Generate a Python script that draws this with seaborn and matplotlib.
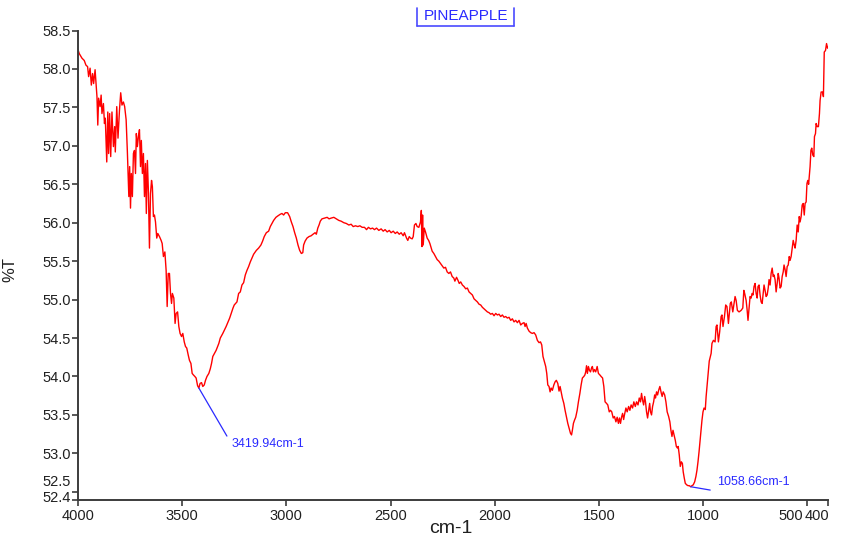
import numpy as np
import pandas as pd
import matplotlib
matplotlib.use("Agg")
import matplotlib.pyplot as plt
from matplotlib.lines import Line2D
from matplotlib.transforms import ScaledTranslation
import seaborn as sns

# FTIR transmittance spectrum, read region by region (wavenumber in cm-1, %T)
wn_oh = [4000, 3994, 3981, 3970, 3962, 3954, 3949, 3942, 3936, 3930, 3925, 3918, 3914, 3909,
         3905, 3901, 3894, 3889, 3885, 3878, 3873, 3869, 3862, 3857, 3853, 3848, 3843, 3837,
         3830, 3824, 3821, 3814, 3808, 3801, 3795, 3789, 3782, 3776, 3769, 3763, 3756, 3752,
         3748, 3744, 3739, 3734, 3729, 3724, 3720, 3715, 3710, 3705, 3700, 3696, 3691, 3686,
         3681, 3676, 3672, 3667, 3662, 3657, 3652, 3647, 3643, 3638, 3633, 3628, 3622, 3617,
         3609, 3601, 3596, 3590, 3583, 3577, 3572, 3567, 3561, 3556, 3551, 3547, 3540, 3534,
         3529, 3522, 3516, 3510, 3503, 3497, 3490, 3484, 3478, 3471, 3465, 3458, 3452, 3446,
         3439, 3433, 3426, 3419.94, 3414, 3407, 3401, 3394, 3388, 3381, 3372, 3365, 3359, 3353,
         3345, 3337, 3324, 3317, 3305, 3289, 3272]
t_oh = [58.25, 58.20, 58.14, 58.11, 58.05, 58.03, 57.90, 58.01, 57.79, 57.94, 57.81, 57.99, 57.83, 57.64,
        57.27, 57.62, 57.51, 57.66, 57.42, 57.55, 57.29, 57.36, 56.79, 57.44, 56.90, 57.42, 56.86, 57.44,
        56.99, 57.25, 56.92, 57.51, 57.10, 57.46, 57.69, 57.53, 57.57, 57.51, 57.34, 56.92, 56.34, 56.73,
        56.19, 56.64, 56.34, 56.90, 56.94, 56.64, 57.16, 56.99, 57.12, 57.21, 56.73, 57.07, 56.64, 56.90,
        56.34, 56.77, 56.12, 56.81, 56.40, 55.67, 56.38, 56.55, 56.47, 56.08, 56.10, 56.01, 55.80, 55.86,
        55.82, 55.77, 55.73, 55.56, 55.62, 55.38, 54.91, 55.34, 55.34, 55.08, 54.95, 55.08, 55.02, 54.69,
        54.82, 54.84, 54.65, 54.56, 54.52, 54.56, 54.45, 54.39, 54.37, 54.28, 54.21, 54.17, 54.04, 54.02,
        54.00, 53.98, 53.88, 53.85, 53.91, 53.92, 53.87, 53.89, 53.95, 54.00, 54.04, 54.10, 54.17, 54.26,
        54.30, 54.34, 54.43, 54.50, 54.56, 54.65, 54.76]

wn_ch = [3256, 3250, 3237, 3229, 3221, 3213, 3205, 3197, 3189, 3181, 3173, 3165, 3157, 3144,
         3133, 3122, 3114, 3106, 3096, 3085, 3077, 3069, 3061, 3050, 3040, 3029, 3021, 3013,
         3005, 2994, 2984, 2976, 2968, 2960, 2952, 2944, 2936, 2928, 2921, 2917, 2910, 2901,
         2891, 2881, 2872, 2862, 2856, 2849, 2843, 2837, 2829, 2817, 2804, 2795, 2785, 2772,
         2760, 2748, 2737, 2724, 2712, 2700, 2689, 2679, 2668, 2657, 2647, 2636, 2625, 2615,
         2606, 2596, 2586, 2577, 2567, 2556, 2545, 2535, 2526, 2516, 2506, 2497, 2487, 2477,
         2468, 2458, 2449, 2439, 2433, 2423, 2417, 2410, 2404, 2396, 2391, 2385, 2378, 2372,
         2364, 2356, 2352, 2349, 2346, 2343, 2338, 2332, 2324, 2317, 2311]
t_ch = [54.89, 54.93, 54.97, 55.08, 55.10, 55.19, 55.22, 55.32, 55.38, 55.43, 55.49, 55.54, 55.59, 55.64,
        55.67, 55.71, 55.76, 55.82, 55.87, 55.89, 55.95, 55.99, 56.03, 56.07, 56.09, 56.11, 56.12, 56.10,
        56.13, 56.13, 56.08, 56.01, 55.95, 55.87, 55.80, 55.71, 55.64, 55.60, 55.61, 55.71, 55.76, 55.80,
        55.82, 55.83, 55.85, 55.87, 55.85, 55.93, 55.97, 56.02, 56.05, 56.06, 56.07, 56.05, 56.06, 56.07,
        56.05, 56.03, 56.02, 56.00, 55.99, 55.97, 55.98, 55.95, 55.96, 55.95, 55.96, 55.94, 55.94, 55.91,
        55.94, 55.92, 55.93, 55.91, 55.93, 55.90, 55.92, 55.89, 55.91, 55.88, 55.90, 55.87, 55.89, 55.86,
        55.88, 55.85, 55.87, 55.83, 55.87, 55.80, 55.77, 55.82, 55.80, 55.79, 55.82, 55.97, 55.99, 55.95,
        55.94, 56.01, 56.16, 55.69, 56.10, 55.71, 55.93, 55.88, 55.80, 55.77, 55.73]

wn_mid = [2300, 2292, 2284, 2276, 2268, 2260, 2252, 2244, 2236, 2228, 2220, 2212, 2204, 2196,
          2191, 2183, 2176, 2170, 2163, 2155, 2147, 2139, 2131, 2123, 2115, 2107, 2099, 2091,
          2083, 2075, 2067, 2059, 2051, 2043, 2035, 2027, 2019, 2011, 2003, 1995, 1987, 1979,
          1971, 1963, 1955, 1947, 1939, 1931, 1923, 1915, 1907, 1899, 1891, 1883, 1875, 1867,
          1859, 1854, 1849, 1843, 1835, 1827, 1819, 1811, 1803]
t_mid = [55.63, 55.60, 55.56, 55.52, 55.50, 55.47, 55.44, 55.41, 55.42, 55.36, 55.34, 55.36, 55.30, 55.28,
         55.24, 55.29, 55.25, 55.21, 55.23, 55.19, 55.17, 55.14, 55.15, 55.10, 55.08, 55.06, 55.01, 54.99,
         54.97, 54.94, 54.93, 54.90, 54.88, 54.86, 54.84, 54.83, 54.81, 54.82, 54.79, 54.82, 54.80, 54.81,
         54.78, 54.80, 54.77, 54.78, 54.76, 54.77, 54.73, 54.75, 54.71, 54.73, 54.70, 54.73, 54.67, 54.69,
         54.70, 54.65, 54.69, 54.63, 54.59, 54.57, 54.56, 54.57, 54.54]

wn_fp = [1795, 1787, 1780, 1774, 1768, 1761, 1755, 1750, 1745, 1739, 1734, 1729, 1723, 1716,
         1710, 1704, 1697, 1691, 1686, 1681, 1675, 1668, 1662, 1655, 1649, 1643, 1636, 1631,
         1627, 1622, 1617, 1611, 1604, 1598, 1591, 1585, 1579, 1572, 1567, 1563, 1559, 1555,
         1550, 1545, 1540, 1535, 1531, 1526, 1521, 1515, 1508, 1502, 1495, 1489, 1482, 1476,
         1470, 1463, 1457, 1450, 1444, 1438, 1431, 1425, 1418, 1412, 1406, 1401, 1396, 1391,
         1386, 1381, 1377, 1370, 1364, 1357, 1351, 1345, 1338, 1332, 1325, 1319, 1312, 1306,
         1300, 1295, 1290, 1285, 1280, 1276, 1271, 1266, 1261, 1256, 1252, 1247, 1242, 1237,
         1232, 1228, 1223, 1218, 1213, 1207, 1200, 1196, 1191, 1184, 1178, 1172, 1165, 1159,
         1154, 1149, 1144, 1139, 1133, 1128, 1123, 1119, 1114, 1109, 1104, 1099, 1095, 1090,
         1085, 1078, 1072, 1066, 1058.66, 1053, 1047, 1040, 1034, 1029, 1024, 1019, 1014, 1010,
         1005, 1000, 995, 989, 985, 978, 970]
t_fp = [54.47, 54.44, 54.45, 54.41, 54.26, 54.19, 54.13, 54.04, 53.89, 53.87, 53.80, 53.85, 53.82, 53.89,
        53.93, 53.95, 53.91, 53.81, 53.87, 53.80, 53.72, 53.65, 53.56, 53.47, 53.39, 53.33, 53.26, 53.24,
        53.30, 53.39, 53.43, 53.47, 53.56, 53.67, 53.78, 53.89, 53.98, 54.00, 54.02, 54.06, 54.14, 54.04,
        54.13, 54.08, 54.06, 54.11, 54.13, 54.06, 54.09, 54.06, 54.13, 54.04, 54.02, 54.00, 53.98, 53.87,
        53.67, 53.65, 53.63, 53.54, 53.56, 53.54, 53.46, 53.48, 53.41, 53.47, 53.39, 53.46, 53.39, 53.47,
        53.52, 53.44, 53.50, 53.59, 53.54, 53.61, 53.56, 53.63, 53.59, 53.67, 53.61, 53.67, 53.63, 53.72,
        53.67, 53.78, 53.69, 53.63, 53.74, 53.67, 53.54, 53.46, 53.56, 53.65, 53.54, 53.50, 53.61, 53.67,
        53.76, 53.72, 53.80, 53.76, 53.82, 53.87, 53.78, 53.74, 53.80, 53.76, 53.67, 53.54, 53.48, 53.41,
        53.30, 53.22, 53.30, 53.24, 53.17, 53.09, 53.07, 53.09, 52.98, 52.83, 52.89, 52.87, 52.76, 52.68,
        52.61, 52.59, 52.58, 52.58, 52.566, 52.58, 52.59, 52.63, 52.70, 52.78, 52.89, 53.02, 53.17, 53.30,
        53.43, 53.54, 53.59, 53.57, 53.74, 53.95, 54.20]

wn_low = [961, 957, 950, 942, 937, 933, 926, 920, 913, 909, 904, 897, 891, 885,
          878, 873, 869, 864, 857, 853, 846, 841, 835, 827, 817, 809, 804, 800,
          793, 788, 784, 779, 774, 769, 764, 760, 755, 750, 745, 740, 736, 731,
          726, 721, 716, 711, 707, 702, 697, 692, 687, 683, 678, 673, 668, 663,
          659, 654, 649, 644, 639, 635, 630, 625, 620, 615, 611, 606, 601, 596,
          591, 586, 582, 577, 572, 567, 562, 558, 553, 548, 543, 538, 534, 529,
          524, 519, 514, 510, 505, 501, 497, 493, 490, 486, 482, 478, 473, 468,
          465, 460, 457, 452, 446, 441, 438, 433, 426, 422, 418, 412, 407, 402, 400]
t_low = [54.30, 54.43, 54.47, 54.45, 54.65, 54.67, 54.45, 54.58, 54.78, 54.80, 54.65, 54.78, 54.93, 54.91,
         54.69, 54.84, 54.95, 54.97, 54.84, 54.91, 55.04, 54.99, 54.86, 54.84, 54.86, 54.89, 55.12, 55.08,
         54.99, 54.86, 54.73, 54.89, 55.04, 55.02, 55.08, 55.06, 55.17, 55.21, 55.08, 55.02, 55.17, 55.19,
         55.06, 54.97, 54.95, 55.08, 55.19, 55.12, 55.04, 55.06, 55.15, 55.26, 55.19, 55.34, 55.41, 55.30,
         55.32, 55.26, 55.10, 55.21, 55.34, 55.28, 55.15, 55.17, 55.30, 55.36, 55.45, 55.39, 55.30, 55.43,
         55.45, 55.56, 55.51, 55.56, 55.67, 55.77, 55.71, 55.67, 55.77, 55.97, 55.88, 56.08, 56.01, 56.08,
         56.23, 56.25, 56.10, 56.25, 56.27, 56.51, 56.55, 56.50, 56.60, 56.73, 56.94, 56.97, 56.88, 56.86,
         57.12, 57.16, 57.29, 57.25, 57.25, 57.42, 57.59, 57.70, 57.70, 57.64, 58.22, 58.24, 58.33, 58.27, 58.28]

# Labelled band positions (cm-1) and their %T
peak_wn = [3419.94, 1058.66]
peak_t = [53.85, 52.566]
peak_labels = ["3419.94cm-1", "1058.66cm-1"]

x_ticks = [4000, 3500, 3000, 2500, 2000, 1500, 1000, 500, 400]
y_ticks = [58.5, 58.0, 57.5, 57.0, 56.5, 56.0, 55.5, 55.0, 54.5, 54.0, 53.5, 53.0, 52.5, 52.4]

spectrum = pd.DataFrame({
    "wavenumber": wn_oh + wn_ch + wn_mid + wn_fp + wn_low,
    "transmittance": t_oh + t_ch + t_mid + t_fp + t_low,
})

sns.set_style("white")
plt.rcParams["font.family"] = ["Liberation Sans", "DejaVu Sans"]

fig = plt.figure(figsize=(8.42, 5.42), dpi=100)
ax = fig.add_axes([78 / 842, 42.5 / 542, 750 / 842, 469 / 542])

sns.lineplot(data=spectrum, x="wavenumber", y="transmittance", ax=ax,
             color="#ff0000", linewidth=1.0, estimator=None, sort=False)

ax.set_xlim(4000, 400)
ax.set_ylim(52.4, 58.5)
ax.set_xticks(x_ticks)
ax.set_xticklabels([str(v) for v in x_ticks])
ax.set_yticks(y_ticks)
ax.set_yticklabels([f"{v:.1f}" for v in y_ticks])

for side in ("top", "right"):
    ax.spines[side].set_visible(False)
for side in ("left", "bottom"):
    ax.spines[side].set_color("#3c3c3c")
    ax.spines[side].set_linewidth(1.4)

ax.tick_params(axis="both", direction="out", colors="#3c3c3c", labelcolor="#202020",
               labelsize=10.5, width=1.2, bottom=True, left=True)
ax.tick_params(axis="y", length=4, pad=1)
ax.tick_params(axis="x", length=4, pad=3)

# lift the two crowded labels at the bottom of the y axis apart
ylabels = ax.get_yticklabels()
ylabels[-2].set_transform(ylabels[-2].get_transform() + ScaledTranslation(0, 0.11, fig.dpi_scale_trans))
ylabels[-1].set_transform(ylabels[-1].get_transform() + ScaledTranslation(0, 0.03, fig.dpi_scale_trans))

# the last two x labels sit right-aligned on their ticks so they do not collide
xlabels = ax.get_xticklabels()
for lab, dx in zip(xlabels[-2:], (-0.04, 0.01)):
    lab.set_horizontalalignment("right")
    lab.set_transform(lab.get_transform() + ScaledTranslation(dx, 0, fig.dpi_scale_trans))

ax.set_xlabel("cm-1", fontsize=14, color="#202020")
ax.set_ylabel("%T", fontsize=12, color="#202020")
ax.xaxis.set_label_coords(373 / 750, -0.044)
ax.yaxis.set_label_coords(-61 / 750, 0.49)

# band markers: thin blue leader line plus value label
line_offsets = [(20.2, -34.6), (14.0, -2.4)]
text_offsets = [(23.8, -40.3), (18.9, 3.4)]
for wn, t, lab, lo, to in zip(peak_wn, peak_t, peak_labels, line_offsets, text_offsets):
    ax.annotate("", xy=(wn, t), xytext=lo, textcoords="offset points",
                arrowprops=dict(arrowstyle="-", color="#2a2aff", lw=0.9, shrinkA=0, shrinkB=0))
    ax.annotate(lab, xy=(wn, t), xytext=to, textcoords="offset points",
                ha="left", va="center", fontsize=9, color="#2a2aff")

# sample name in a bracketed box at the top
fig.text(466 / 842, 1 - 16 / 542, "PINEAPPLE", ha="center", va="center",
         fontsize=11, color="#2a2aff")
bx0, bx1, by0, by1 = 417 / 842, 514 / 842, 1 - 8 / 542, 1 - 26 / 542
for xs, ys in (([bx0, bx0], [by0, by1]), ([bx1, bx1], [by0, by1]), ([bx0, bx1], [by1, by1])):
    fig.add_artist(Line2D(xs, ys, transform=fig.transFigure, color="#4a4aff", lw=1.2))

fig.savefig("out.png", dpi=100, facecolor="white")
